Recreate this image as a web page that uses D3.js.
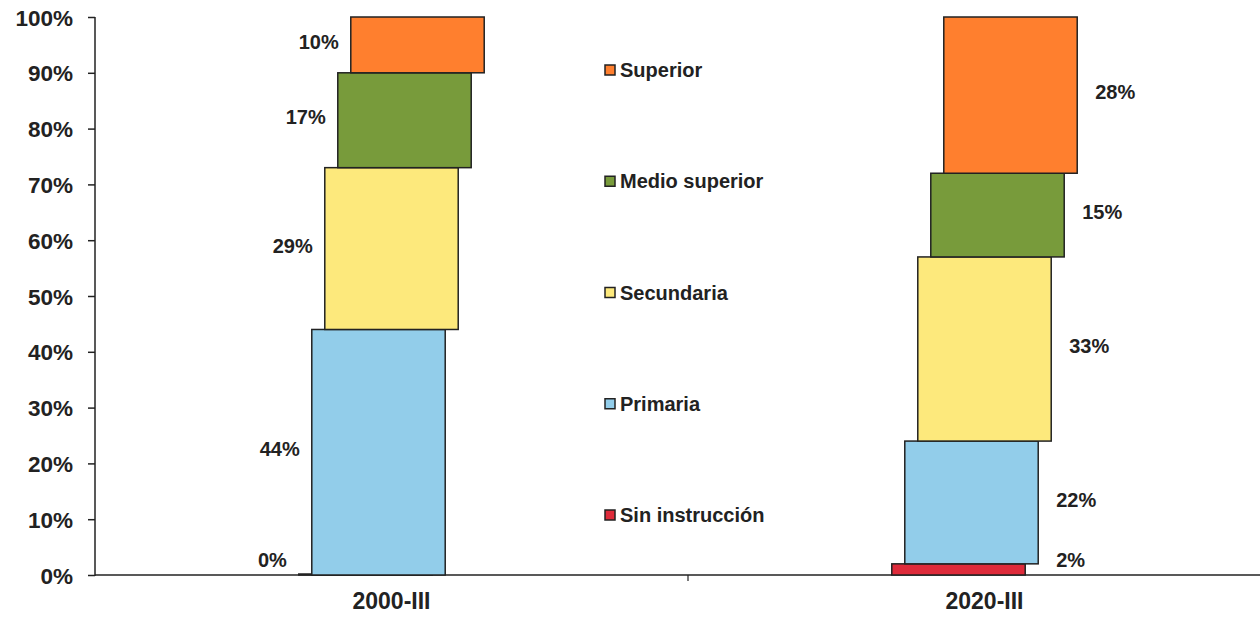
<!DOCTYPE html>
<html>
<head>
<meta charset="utf-8">
<script src="https://cdn.jsdelivr.net/npm/d3@7.9.0/dist/d3.min.js"></script>
<style>
  body { margin: 0; background: #fff; }
  svg text { font-family: "Liberation Sans", Arial, sans-serif; font-weight: bold; fill: #222; }
</style>
</head>
<body>
<svg id="chart" width="1260" height="617"></svg>
<script>
// data
const categories = ['2000-III', '2020-III'];
const seriesNames = ['Sin instrucción', 'Primaria', 'Secundaria', 'Medio superior', 'Superior'];
const sinInstruccion = [0, 2];
const primaria = [44, 22];
const secundaria = [29, 33];
const medioSuperior = [17, 15];
const superior = [10, 28];
const seriesColors = ['#de2b3b', '#92cdea', '#fde97c', '#789b3b', '#ff7f2e'];
const yTicks = [0, 10, 20, 30, 40, 50, 60, 70, 80, 90, 100];

const values = [sinInstruccion, primaria, secundaria, medioSuperior, superior];
const rows = categories.map((c, i) => {
  let r = { cat: c };
  seriesNames.forEach((s, k) => r[s] = values[k][i]);
  return r;
});

const svg = d3.select('#chart');
const mLeft = 95, mBottom = 575, mTop = 17;

let y = d3.scaleLinear().domain([0, 100]).range([mBottom, mTop]);
let x = d3.scaleBand().domain(categories).range([mLeft, 1281]).padding(0);
let shift = d3.scalePoint().domain(seriesNames).range([-26, 26]); // staggered look
let color = d3.scaleOrdinal().domain(seriesNames).range(seriesColors);
const barW = x.bandwidth() * 0.225;

// y axis
let yAxis = d3.axisLeft(y).tickValues(yTicks).tickFormat(d => d + '%').tickSize(7).tickPadding(15);
let gy = svg.append('g').attr('transform', `translate(${mLeft},0)`).call(yAxis);
gy.select('.domain').attr('stroke', '#222').attr('stroke-width', 1.5).attr('d', `M0,${mTop}V${mBottom + 1}`);
gy.selectAll('.tick line').attr('stroke', '#222').attr('stroke-width', 1.5);
gy.selectAll('.tick text').style('font-size', '22.5px').attr('dy', '0.36em');

// x axis
let xAxis = d3.axisBottom(x).tickSize(0).tickPadding(18);
let gx = svg.append('g').attr('transform', `translate(0,${mBottom})`).call(xAxis);
gx.select('.domain').attr('stroke', '#222').attr('stroke-width', 1.5).attr('d', `M${mLeft},0H1260`);
gx.selectAll('.tick text').style('font-size', '23px');
gx.selectAll('.sep')
  .data(categories.slice(1))
  .join('line')
  .attr('x1', d => x(d)).attr('x2', d => x(d))
  .attr('y1', 0).attr('y2', 6)
  .attr('stroke', '#222').attr('stroke-width', 1.2);

// stacked bars
let stacked = d3.stack().keys(seriesNames)(rows);
let groups = svg.append('g').selectAll('g')
  .data(stacked)
  .join('g')
  .attr('fill', d => color(d.key));

const segX = (cat, key) => x(cat) + x.bandwidth() / 2 + shift(key) - barW / 2;

groups.selectAll('rect')
  .data(d => d.map(p => ({ key: d.key, p })))
  .join('rect')
  .attr('x', d => segX(d.p.data.cat, d.key))
  .attr('y', d => y(d.p[1]) - (d.p[1] === d.p[0] ? 1 : 0))
  .attr('width', barW)
  .attr('height', d => Math.max(1, y(d.p[0]) - y(d.p[1])))
  .attr('stroke', '#222')
  .attr('stroke-width', 1.5);

// value labels: left side for first bar, right side for second
groups.selectAll('text')
  .data(d => d.map(p => ({ key: d.key, p })))
  .join('text')
  .each(function (d) {
    let mid = (y(d.p[0]) + y(d.p[1])) / 2 - 3;
    let lifted = mid > y(d.p[0]) - 15;
    let ly = lifted ? y(d.p[0]) - 15 : mid;
    let first = d.p.data.cat === categories[0];
    let k = seriesNames.indexOf(d.key);
    let refKey = (lifted && !first && k < seriesNames.length - 1) ? seriesNames[k + 1] : d.key;
    let lx = first ? segX(d.p.data.cat, d.key) - 12 : segX(d.p.data.cat, refKey) + barW + 18;
    d3.select(this)
      .attr('x', lx).attr('y', ly)
      .attr('text-anchor', first ? 'end' : 'start');
  })
  .attr('dy', '0.36em')
  .style('font-size', '20px')
  .attr('fill', '#222')
  .text(d => (d.p[1] - d.p[0]) + '%');

// legend, top to bottom
let legend = svg.append('g').attr('transform', 'translate(605,0)');
let legendY = d3.scalePoint().domain(seriesNames.slice().reverse()).range([70, 515]);
let items = legend.selectAll('g')
  .data(seriesNames.slice().reverse())
  .join('g')
  .attr('transform', d => `translate(0,${legendY(d)})`);
items.append('rect')
  .attr('x', 0).attr('y', -5).attr('width', 10).attr('height', 10)
  .attr('fill', d => color(d))
  .attr('stroke', '#222').attr('stroke-width', 1.5);
items.append('text')
  .attr('x', 15).attr('dy', '0.36em')
  .style('font-size', '20px')
  .text(d => d);
</script>
</body>
</html>
